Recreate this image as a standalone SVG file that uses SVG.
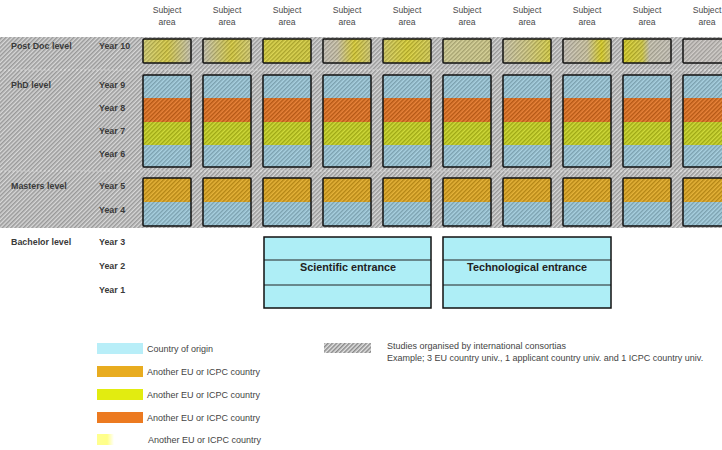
<svg xmlns="http://www.w3.org/2000/svg" width="722" height="450" viewBox="0 0 722 450">
<defs>
<pattern id="bgHatch" patternUnits="userSpaceOnUse" width="3" height="3" patternTransform="rotate(45)">
<rect width="3" height="3" fill="#d8d8d8"/>
<line x1="0.8" y1="0" x2="0.8" y2="3" stroke="#8e8e8e" stroke-width="1.3"/>
</pattern>
<pattern id="boxHatch" patternUnits="userSpaceOnUse" width="3" height="3" patternTransform="rotate(45)">
<line x1="0.8" y1="0" x2="0.8" y2="3" stroke="#000" stroke-opacity="0.28" stroke-width="1.1"/>
<line x1="2.2" y1="0" x2="2.2" y2="3" stroke="#fff" stroke-opacity="0.25" stroke-width="0.8"/>
</pattern>
<pattern id="legHatch" patternUnits="userSpaceOnUse" width="3" height="3" patternTransform="rotate(45)">
<rect width="3" height="3" fill="#e4e4e4"/>
<line x1="0.8" y1="0" x2="0.8" y2="3" stroke="#7a7a7a" stroke-width="1.3"/>
</pattern>
<linearGradient id="pd1" x1="0" x2="1"><stop offset="0" stop-color="#d4cf70"/><stop offset="0.5" stop-color="#d8cc40"/><stop offset="1" stop-color="#c8c4b0"/></linearGradient>
<linearGradient id="pd2" x1="0" x2="1"><stop offset="0" stop-color="#c8c4b0"/><stop offset="0.6" stop-color="#d8cc3a"/><stop offset="1" stop-color="#d4cc70"/></linearGradient>
<linearGradient id="pd3" x1="0" x2="1"><stop offset="0" stop-color="#d8d03a"/><stop offset="1" stop-color="#d4cc3a"/></linearGradient>
<linearGradient id="pd4" x1="0" x2="1"><stop offset="0" stop-color="#c8c2b8"/><stop offset="0.3" stop-color="#ccc4a8"/><stop offset="0.65" stop-color="#dccf30"/><stop offset="1" stop-color="#d0c870"/></linearGradient>
<linearGradient id="pd5" x1="0" x2="1"><stop offset="0" stop-color="#d4cc60"/><stop offset="0.5" stop-color="#dad030"/><stop offset="1" stop-color="#d4cc50"/></linearGradient>
<linearGradient id="pd6" x1="0" x2="1"><stop offset="0" stop-color="#d0cc90"/><stop offset="1" stop-color="#d0ca88"/></linearGradient>
<linearGradient id="pd7" x1="0" x2="1"><stop offset="0" stop-color="#ccc6a8"/><stop offset="0.5" stop-color="#d2ca80"/><stop offset="1" stop-color="#d8d040"/></linearGradient>
<linearGradient id="pd8" x1="0" x2="1"><stop offset="0" stop-color="#c8c2b8"/><stop offset="0.5" stop-color="#cec6a0"/><stop offset="0.8" stop-color="#dcd020"/><stop offset="1" stop-color="#d0c870"/></linearGradient>
<linearGradient id="pd9" x1="0" x2="1"><stop offset="0" stop-color="#d8d020"/><stop offset="0.4" stop-color="#d4cc40"/><stop offset="0.55" stop-color="#c8c4b0"/><stop offset="1" stop-color="#c8c4b8"/></linearGradient>
<linearGradient id="pd10" x1="0" x2="1"><stop offset="0" stop-color="#c8c4c0"/><stop offset="1" stop-color="#ccc8c4"/></linearGradient>
<linearGradient id="legPale" x1="0" x2="1"><stop offset="0" stop-color="#ffff90"/><stop offset="0.6" stop-color="#ffff88"/><stop offset="1" stop-color="#ffffff"/></linearGradient>
</defs>
<style>
.sub{font-family:"Liberation Sans",Arial,sans-serif;font-size:8.6px;fill:#4a4a4a;text-anchor:middle}
.lbl{font-family:"Liberation Sans",Arial,sans-serif;font-size:8.9px;font-weight:bold;fill:#3a3a3a}
.ent{font-family:"Liberation Sans",Arial,sans-serif;font-size:10.8px;font-weight:bold;fill:#222;text-anchor:middle}
.leg{font-family:"Liberation Sans",Arial,sans-serif;font-size:9px;fill:#444}
.box{stroke:#111;stroke-width:1.5;fill:none}
.sep{stroke:#222;stroke-width:1}
.blue{fill:#9ccadc}
.orange{fill:#e4701c}
.lime{fill:#c8d41c}
.gold{fill:#e2a81c}
.hatch{fill:url(#boxHatch)}
.cyan{fill:#aeeef6}
.dash{stroke:#fff;stroke-width:0.8;stroke-dasharray:2 2;opacity:0.6}
</style>
<rect width="722" height="450" fill="#fff"/>
<g id="background">
<rect x="0" y="37" width="722" height="191" fill="url(#bgHatch)"/>
<line class="dash" x1="0" y1="70" x2="722" y2="70"/>
<line class="dash" x1="0" y1="171" x2="722" y2="171"/>
</g>
<g id="headers">
<text class="sub" x="167" y="13">Subject</text><text class="sub" x="167" y="25">area</text>
<text class="sub" x="227" y="13">Subject</text><text class="sub" x="227" y="25">area</text>
<text class="sub" x="287" y="13">Subject</text><text class="sub" x="287" y="25">area</text>
<text class="sub" x="347" y="13">Subject</text><text class="sub" x="347" y="25">area</text>
<text class="sub" x="407" y="13">Subject</text><text class="sub" x="407" y="25">area</text>
<text class="sub" x="467" y="13">Subject</text><text class="sub" x="467" y="25">area</text>
<text class="sub" x="527" y="13">Subject</text><text class="sub" x="527" y="25">area</text>
<text class="sub" x="587" y="13">Subject</text><text class="sub" x="587" y="25">area</text>
<text class="sub" x="647" y="13">Subject</text><text class="sub" x="647" y="25">area</text>
<text class="sub" x="707" y="13">Subject</text><text class="sub" x="707" y="25">area</text>
</g>
<g id="row-labels">
<text class="lbl" x="11" y="49">Post Doc level</text>
<text class="lbl" x="99" y="49">Year 10</text>
<text class="lbl" x="11" y="88">PhD level</text>
<text class="lbl" x="99" y="88">Year 9</text>
<text class="lbl" x="99" y="111">Year 8</text>
<text class="lbl" x="99" y="134">Year 7</text>
<text class="lbl" x="99" y="157">Year 6</text>
<text class="lbl" x="11" y="189">Masters level</text>
<text class="lbl" x="99" y="189">Year 5</text>
<text class="lbl" x="99" y="213">Year 4</text>
<text class="lbl" x="11" y="245">Bachelor level</text>
<text class="lbl" x="99" y="245">Year 3</text>
<text class="lbl" x="99" y="269">Year 2</text>
<text class="lbl" x="99" y="293">Year 1</text>
</g>
<g id="postdoc">
<g id="pd-col1"><rect x="143" y="39" width="48" height="24" fill="url(#pd1)"/><rect class="hatch" x="143" y="39" width="48" height="24"/><rect class="box" x="143" y="39" width="48" height="24" rx="1"/></g>
<g id="pd-col2"><rect x="203" y="39" width="48" height="24" fill="url(#pd2)"/><rect class="hatch" x="203" y="39" width="48" height="24"/><rect class="box" x="203" y="39" width="48" height="24" rx="1"/></g>
<g id="pd-col3"><rect x="263" y="39" width="48" height="24" fill="url(#pd3)"/><rect class="hatch" x="263" y="39" width="48" height="24"/><rect class="box" x="263" y="39" width="48" height="24" rx="1"/></g>
<g id="pd-col4"><rect x="323" y="39" width="48" height="24" fill="url(#pd4)"/><rect class="hatch" x="323" y="39" width="48" height="24"/><rect class="box" x="323" y="39" width="48" height="24" rx="1"/></g>
<g id="pd-col5"><rect x="383" y="39" width="48" height="24" fill="url(#pd5)"/><rect class="hatch" x="383" y="39" width="48" height="24"/><rect class="box" x="383" y="39" width="48" height="24" rx="1"/></g>
<g id="pd-col6"><rect x="443" y="39" width="48" height="24" fill="url(#pd6)"/><rect class="hatch" x="443" y="39" width="48" height="24"/><rect class="box" x="443" y="39" width="48" height="24" rx="1"/></g>
<g id="pd-col7"><rect x="503" y="39" width="48" height="24" fill="url(#pd7)"/><rect class="hatch" x="503" y="39" width="48" height="24"/><rect class="box" x="503" y="39" width="48" height="24" rx="1"/></g>
<g id="pd-col8"><rect x="563" y="39" width="48" height="24" fill="url(#pd8)"/><rect class="hatch" x="563" y="39" width="48" height="24"/><rect class="box" x="563" y="39" width="48" height="24" rx="1"/></g>
<g id="pd-col9"><rect x="623" y="39" width="48" height="24" fill="url(#pd9)"/><rect class="hatch" x="623" y="39" width="48" height="24"/><rect class="box" x="623" y="39" width="48" height="24" rx="1"/></g>
<g id="pd-col10"><rect x="683" y="39" width="48" height="24" fill="url(#pd10)"/><rect class="hatch" x="683" y="39" width="48" height="24"/><rect class="box" x="683" y="39" width="48" height="24" rx="1"/></g>
</g>
<g id="phd">
<g id="phd-col1" transform="translate(143,0)"><rect class="blue" x="0" y="75" width="48" height="23"/><rect class="orange" x="0" y="98" width="48" height="24"/><rect class="lime" x="0" y="122" width="48" height="23"/><rect class="blue" x="0" y="145" width="48" height="22"/><rect class="hatch" x="0" y="75" width="48" height="92"/><rect class="box" x="0" y="75" width="48" height="92" rx="1"/></g>
<g id="phd-col2" transform="translate(203,0)"><rect class="blue" x="0" y="75" width="48" height="23"/><rect class="orange" x="0" y="98" width="48" height="24"/><rect class="lime" x="0" y="122" width="48" height="23"/><rect class="blue" x="0" y="145" width="48" height="22"/><rect class="hatch" x="0" y="75" width="48" height="92"/><rect class="box" x="0" y="75" width="48" height="92" rx="1"/></g>
<g id="phd-col3" transform="translate(263,0)"><rect class="blue" x="0" y="75" width="48" height="23"/><rect class="orange" x="0" y="98" width="48" height="24"/><rect class="lime" x="0" y="122" width="48" height="23"/><rect class="blue" x="0" y="145" width="48" height="22"/><rect class="hatch" x="0" y="75" width="48" height="92"/><rect class="box" x="0" y="75" width="48" height="92" rx="1"/></g>
<g id="phd-col4" transform="translate(323,0)"><rect class="blue" x="0" y="75" width="48" height="23"/><rect class="orange" x="0" y="98" width="48" height="24"/><rect class="lime" x="0" y="122" width="48" height="23"/><rect class="blue" x="0" y="145" width="48" height="22"/><rect class="hatch" x="0" y="75" width="48" height="92"/><rect class="box" x="0" y="75" width="48" height="92" rx="1"/></g>
<g id="phd-col5" transform="translate(383,0)"><rect class="blue" x="0" y="75" width="48" height="23"/><rect class="orange" x="0" y="98" width="48" height="24"/><rect class="lime" x="0" y="122" width="48" height="23"/><rect class="blue" x="0" y="145" width="48" height="22"/><rect class="hatch" x="0" y="75" width="48" height="92"/><rect class="box" x="0" y="75" width="48" height="92" rx="1"/></g>
<g id="phd-col6" transform="translate(443,0)"><rect class="blue" x="0" y="75" width="48" height="23"/><rect class="orange" x="0" y="98" width="48" height="24"/><rect class="lime" x="0" y="122" width="48" height="23"/><rect class="blue" x="0" y="145" width="48" height="22"/><rect class="hatch" x="0" y="75" width="48" height="92"/><rect class="box" x="0" y="75" width="48" height="92" rx="1"/></g>
<g id="phd-col7" transform="translate(503,0)"><rect class="blue" x="0" y="75" width="48" height="23"/><rect class="orange" x="0" y="98" width="48" height="24"/><rect class="lime" x="0" y="122" width="48" height="23"/><rect class="blue" x="0" y="145" width="48" height="22"/><rect class="hatch" x="0" y="75" width="48" height="92"/><rect class="box" x="0" y="75" width="48" height="92" rx="1"/></g>
<g id="phd-col8" transform="translate(563,0)"><rect class="blue" x="0" y="75" width="48" height="23"/><rect class="orange" x="0" y="98" width="48" height="24"/><rect class="lime" x="0" y="122" width="48" height="23"/><rect class="blue" x="0" y="145" width="48" height="22"/><rect class="hatch" x="0" y="75" width="48" height="92"/><rect class="box" x="0" y="75" width="48" height="92" rx="1"/></g>
<g id="phd-col9" transform="translate(623,0)"><rect class="blue" x="0" y="75" width="48" height="23"/><rect class="orange" x="0" y="98" width="48" height="24"/><rect class="lime" x="0" y="122" width="48" height="23"/><rect class="blue" x="0" y="145" width="48" height="22"/><rect class="hatch" x="0" y="75" width="48" height="92"/><rect class="box" x="0" y="75" width="48" height="92" rx="1"/></g>
<g id="phd-col10" transform="translate(683,0)"><rect class="blue" x="0" y="75" width="48" height="23"/><rect class="orange" x="0" y="98" width="48" height="24"/><rect class="lime" x="0" y="122" width="48" height="23"/><rect class="blue" x="0" y="145" width="48" height="22"/><rect class="hatch" x="0" y="75" width="48" height="92"/><rect class="box" x="0" y="75" width="48" height="92" rx="1"/></g>
</g>
<g id="masters">
<g id="ms-col1" transform="translate(143,0)"><rect class="gold" x="0" y="178" width="48" height="24"/><rect class="blue" x="0" y="202" width="48" height="24"/><rect class="hatch" x="0" y="178" width="48" height="48"/><rect class="box" x="0" y="178" width="48" height="48" rx="1"/></g>
<g id="ms-col2" transform="translate(203,0)"><rect class="gold" x="0" y="178" width="48" height="24"/><rect class="blue" x="0" y="202" width="48" height="24"/><rect class="hatch" x="0" y="178" width="48" height="48"/><rect class="box" x="0" y="178" width="48" height="48" rx="1"/></g>
<g id="ms-col3" transform="translate(263,0)"><rect class="gold" x="0" y="178" width="48" height="24"/><rect class="blue" x="0" y="202" width="48" height="24"/><rect class="hatch" x="0" y="178" width="48" height="48"/><rect class="box" x="0" y="178" width="48" height="48" rx="1"/></g>
<g id="ms-col4" transform="translate(323,0)"><rect class="gold" x="0" y="178" width="48" height="24"/><rect class="blue" x="0" y="202" width="48" height="24"/><rect class="hatch" x="0" y="178" width="48" height="48"/><rect class="box" x="0" y="178" width="48" height="48" rx="1"/></g>
<g id="ms-col5" transform="translate(383,0)"><rect class="gold" x="0" y="178" width="48" height="24"/><rect class="blue" x="0" y="202" width="48" height="24"/><rect class="hatch" x="0" y="178" width="48" height="48"/><rect class="box" x="0" y="178" width="48" height="48" rx="1"/></g>
<g id="ms-col6" transform="translate(443,0)"><rect class="gold" x="0" y="178" width="48" height="24"/><rect class="blue" x="0" y="202" width="48" height="24"/><rect class="hatch" x="0" y="178" width="48" height="48"/><rect class="box" x="0" y="178" width="48" height="48" rx="1"/></g>
<g id="ms-col7" transform="translate(503,0)"><rect class="gold" x="0" y="178" width="48" height="24"/><rect class="blue" x="0" y="202" width="48" height="24"/><rect class="hatch" x="0" y="178" width="48" height="48"/><rect class="box" x="0" y="178" width="48" height="48" rx="1"/></g>
<g id="ms-col8" transform="translate(563,0)"><rect class="gold" x="0" y="178" width="48" height="24"/><rect class="blue" x="0" y="202" width="48" height="24"/><rect class="hatch" x="0" y="178" width="48" height="48"/><rect class="box" x="0" y="178" width="48" height="48" rx="1"/></g>
<g id="ms-col9" transform="translate(623,0)"><rect class="gold" x="0" y="178" width="48" height="24"/><rect class="blue" x="0" y="202" width="48" height="24"/><rect class="hatch" x="0" y="178" width="48" height="48"/><rect class="box" x="0" y="178" width="48" height="48" rx="1"/></g>
<g id="ms-col10" transform="translate(683,0)"><rect class="gold" x="0" y="178" width="48" height="24"/><rect class="blue" x="0" y="202" width="48" height="24"/><rect class="hatch" x="0" y="178" width="48" height="48"/><rect class="box" x="0" y="178" width="48" height="48" rx="1"/></g>
</g>
<g id="scientific-entrance">
<rect class="cyan" x="264" y="237" width="167" height="71"/>
<line class="sep" x1="264" y1="260" x2="431" y2="260"/>
<line class="sep" x1="264" y1="285" x2="431" y2="285"/>
<rect class="box" x="264" y="237" width="167" height="71"/>
<text class="ent" x="348" y="271">Scientific entrance</text>
</g>
<g id="technological-entrance">
<rect class="cyan" x="443" y="237" width="168" height="71"/>
<line class="sep" x1="443" y1="260" x2="611" y2="260"/>
<line class="sep" x1="443" y1="285" x2="611" y2="285"/>
<rect class="box" x="443" y="237" width="168" height="71"/>
<text class="ent" x="527" y="271">Technological entrance</text>
</g>
<g id="legend">
<rect x="97" y="343" width="46" height="11" fill="#b8eef8"/>
<text class="leg" x="147" y="352">Country of origin</text>
<rect x="97" y="366" width="46" height="11" fill="#e8ac20"/>
<text class="leg" x="147" y="375">Another EU or ICPC country</text>
<rect x="97" y="389" width="46" height="11" fill="#e2ec10"/>
<text class="leg" x="147" y="398">Another EU or ICPC country</text>
<rect x="97" y="412" width="46" height="11" fill="#ec7a20"/>
<text class="leg" x="147" y="421">Another EU or ICPC country</text>
<rect x="97" y="434" width="17" height="11" fill="url(#legPale)"/>
<text class="leg" x="148" y="443">Another EU or ICPC country</text>
<rect x="324" y="343" width="47" height="10" fill="url(#legHatch)"/>
<text class="leg" x="387" y="349">Studies organised by international consortias</text>
<text class="leg" x="387" y="361">Example; 3 EU country univ., 1 applicant country univ. and 1 ICPC country univ.</text>
</g>
</svg>
